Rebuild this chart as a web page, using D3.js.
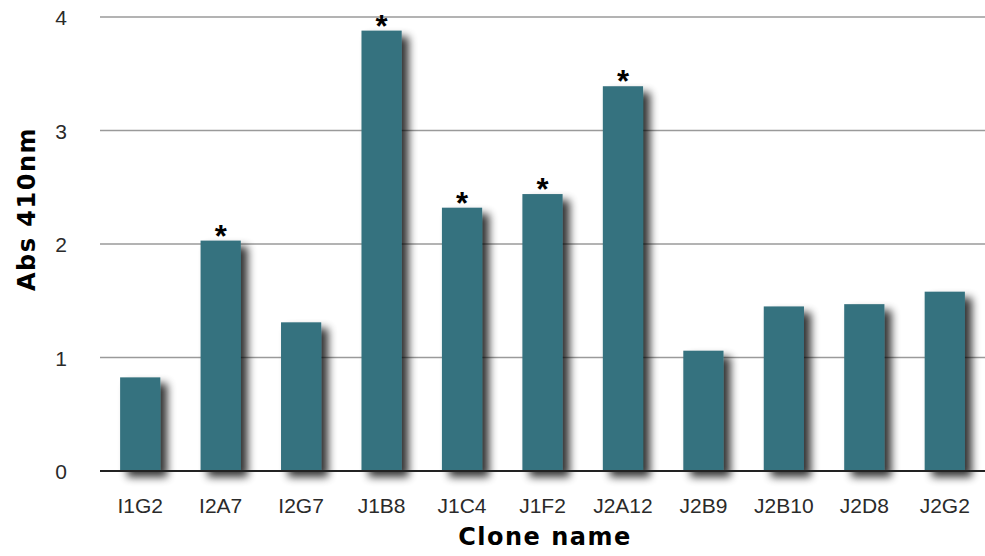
<!DOCTYPE html>
<html><head><meta charset="utf-8">
<script src="https://cdn.jsdelivr.net/npm/d3@7"></script>
<style>body{margin:0;background:#fff}svg{display:block}</style>
</head><body>
<script>
const categories = ["I1G2","I2A7","I2G7","J1B8","J1C4","J1F2","J2A12","J2B9","J2B10","J2D8","J2G2"];
const values = [0.825, 2.03, 1.31, 3.88, 2.32, 2.44, 3.39, 1.06, 1.45, 1.47, 1.58];
const significant = [false, true, false, true, true, true, true, false, false, false, false];
const yTicks = [0,1,2,3,4];

const W = 985, H = 556;
const m = {left:100, right:0, top:17, bottom:85};
const svg = d3.select("body").append("svg").attr("width",W).attr("height",H);

const defs = svg.append("defs");
const f = defs.append("filter").attr("id","sh").attr("x","-30%").attr("y","-10%").attr("width","170%").attr("height","130%");
f.append("feGaussianBlur").attr("in","SourceAlpha").attr("stdDeviation",4.5).attr("result","b");
f.append("feOffset").attr("in","b").attr("dx",7).attr("dy",6).attr("result","o");
f.append("feComponentTransfer").attr("in","o").attr("result","o2").append("feFuncA").attr("type","linear").attr("slope",0.8);
const mg = f.append("feMerge");
mg.append("feMergeNode").attr("in","o2");
mg.append("feMergeNode").attr("in","SourceGraphic");

const x = d3.scaleBand().domain(categories).range([m.left, W - m.right]).paddingInner(0.5).paddingOuter(0.25);
const y = d3.scaleLinear().domain([0,4]).range([471, 17]);

// gridlines
svg.append("g").selectAll("line").data(yTicks.filter(d=>d>0)).join("line")
  .attr("x1", m.left).attr("x2", W).attr("y1", d=>y(d)).attr("y2", d=>y(d))
  .attr("stroke","#9a9a9a").attr("stroke-width",1.5);

// y tick labels
svg.append("g").selectAll("text").data(yTicks).join("text")
  .attr("x", 67).attr("y", d=>y(d)+1).attr("dy","0.35em").attr("text-anchor","end")
  .attr("font-family","Liberation Sans, Arial, sans-serif").attr("font-size",21).attr("fill","#2a2a2a")
  .text(d=>d);

// bars
svg.append("g").attr("filter","url(#sh)").selectAll("rect").data(values).join("rect")
  .attr("x",(d,i)=>x(categories[i])).attr("width",x.bandwidth())
  .attr("y",d=>y(d)).attr("height",d=>y(0)-y(d)).attr("fill","#36727f");

// baseline
svg.append("line").attr("x1",m.left).attr("x2",W).attr("y1",y(0)).attr("y2",y(0))
  .attr("stroke","#222").attr("stroke-width",2);

// asterisks
svg.append("g").selectAll("text").data(values.map((v,i)=>({v,i})).filter(d=>significant[d.i])).join("text")
  .attr("x",d=>x(categories[d.i])+x.bandwidth()/2).attr("y",d=>y(d.v)+6)
  .attr("text-anchor","middle").attr("font-family","Liberation Sans, Arial, sans-serif")
  .attr("font-weight","bold").attr("font-size",31).attr("fill","#000").text("*");

// x tick labels
svg.append("g").selectAll("text").data(categories).join("text")
  .attr("x",d=>x(d)+x.bandwidth()/2).attr("y",513).attr("text-anchor","middle")
  .attr("font-family","Liberation Sans, Arial, sans-serif").attr("font-size",21).attr("fill","#2a2a2a")
  .text(d=>d);

// axis titles
svg.append("text").attr("x",545).attr("y",545).attr("text-anchor","middle")
  .attr("font-family","DejaVu Sans, Verdana, sans-serif").attr("font-weight","bold").attr("font-size",24)
  .attr("letter-spacing",1.5).attr("fill","#000").text("Clone name");
svg.append("text").attr("transform","translate(35,209) rotate(-90)").attr("text-anchor","middle")
  .attr("font-family","DejaVu Sans, Verdana, sans-serif").attr("font-weight","bold").attr("font-size",24)
  .attr("letter-spacing",1.5).attr("fill","#000").text("Abs 410nm");
</script>
</body></html>
